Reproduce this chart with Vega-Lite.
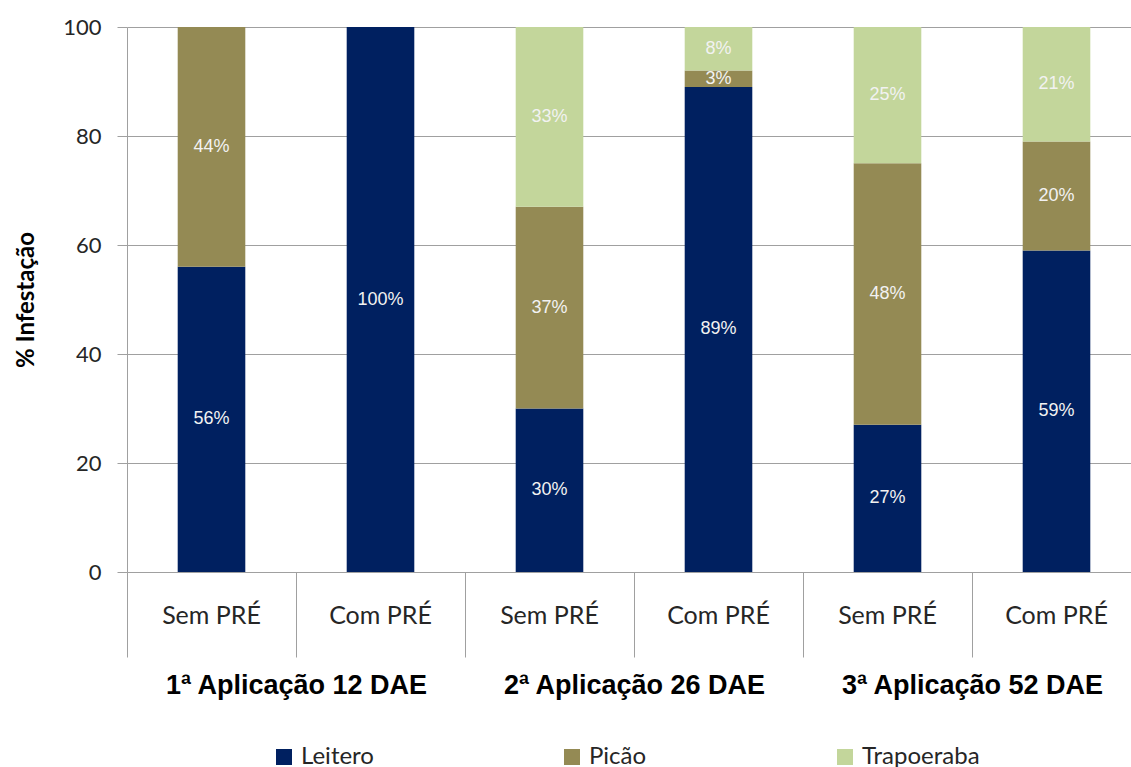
{
  "$schema": "https://vega.github.io/schema/vega-lite/v6.json",
  "width": 1004,
  "height": 545,
  "autosize": {"type": "pad"},
  "padding": {"left": 14, "top": 16, "right": 0, "bottom": 0},
  "background": "white",
  "config": {"view": {"stroke": null}, "font": "Lato"},
  "data": {
    "values": [
      {"group": "1ª Aplicação 12 DAE", "cat": "1|Sem PRÉ", "especie": "Leitero", "value": 56, "label": "56%"},
      {"group": "1ª Aplicação 12 DAE", "cat": "1|Sem PRÉ", "especie": "Picão", "value": 44, "label": "44%"},
      {"group": "1ª Aplicação 12 DAE", "cat": "1|Com PRÉ", "especie": "Leitero", "value": 100, "label": "100%"},
      {"group": "2ª Aplicação 26 DAE", "cat": "2|Sem PRÉ", "especie": "Leitero", "value": 30, "label": "30%"},
      {"group": "2ª Aplicação 26 DAE", "cat": "2|Sem PRÉ", "especie": "Picão", "value": 37, "label": "37%"},
      {"group": "2ª Aplicação 26 DAE", "cat": "2|Sem PRÉ", "especie": "Trapoeraba", "value": 33, "label": "33%"},
      {"group": "2ª Aplicação 26 DAE", "cat": "2|Com PRÉ", "especie": "Leitero", "value": 89, "label": "89%"},
      {"group": "2ª Aplicação 26 DAE", "cat": "2|Com PRÉ", "especie": "Picão", "value": 3, "label": "3%"},
      {"group": "2ª Aplicação 26 DAE", "cat": "2|Com PRÉ", "especie": "Trapoeraba", "value": 8, "label": "8%"},
      {"group": "3ª Aplicação 52 DAE", "cat": "3|Sem PRÉ", "especie": "Leitero", "value": 27, "label": "27%"},
      {"group": "3ª Aplicação 52 DAE", "cat": "3|Sem PRÉ", "especie": "Picão", "value": 48, "label": "48%"},
      {"group": "3ª Aplicação 52 DAE", "cat": "3|Sem PRÉ", "especie": "Trapoeraba", "value": 25, "label": "25%"},
      {"group": "3ª Aplicação 52 DAE", "cat": "3|Com PRÉ", "especie": "Leitero", "value": 59, "label": "59%"},
      {"group": "3ª Aplicação 52 DAE", "cat": "3|Com PRÉ", "especie": "Picão", "value": 20, "label": "20%"},
      {"group": "3ª Aplicação 52 DAE", "cat": "3|Com PRÉ", "especie": "Trapoeraba", "value": 21, "label": "21%"}
    ]
  },
  "transform": [
    {"stack": "value", "groupby": ["cat"], "sort": [{"field": "especie", "order": "ascending"}], "as": ["v0", "v1"]}
  ],
  "layer": [
    {
      "layer": [
        {
          "mark": {"type": "bar", "width": {"band": 0.4}},
          "encoding": {
            "x": {
              "field": "cat", "type": "nominal",
              "sort": ["1|Sem PRÉ", "1|Com PRÉ", "2|Sem PRÉ", "2|Com PRÉ", "3|Sem PRÉ", "3|Com PRÉ"],
              "scale": {"range": [0, 1014], "paddingInner": 0, "paddingOuter": 0},
              "axis": {
                "title": null, "orient": "bottom", "domain": false, "grid": false,
                "ticks": true, "bandPosition": 0, "tickSize": 85, "tickColor": "#A0A0A0", "tickWidth": 1,
                "labelExpr": "split(datum.label, '|')[1]", "labelAngle": 0,
                "labelFont": "Lato", "labelFontSize": 25, "labelColor": "#262626",
                "labelPadding": -54, "labelBaseline": "top"
              }
            },
            "y": {
              "field": "v1", "type": "quantitative", "title": "% Infestação",
              "scale": {"domain": [0, 100], "nice": false},
              "axis": {
                "titleFont": "Lato", "titleFontSize": 24, "titleFontWeight": "bold",
                "titleColor": "#000000", "titlePadding": 24,
                "values": [0, 20, 40, 60, 80, 100],
                "grid": true, "gridColor": "#A0A0A0", "gridWidth": 1,
                "domain": true, "domainColor": "#A0A0A0", "tickColor": "#A0A0A0", "tickSize": 10,
                "labelFont": "Lato", "labelFontSize": 22, "labelColor": "#262626", "labelPadding": 16
              }
            },
            "y2": {"field": "v0"},
            "color": {
              "field": "especie", "type": "nominal",
              "scale": {"domain": ["Leitero", "Picão", "Trapoeraba"], "range": ["#002060", "#948A54", "#C3D69B"]},
              "legend": {
                "title": null, "orient": "none", "direction": "horizontal", "columns": 3,
                "legendX": 145, "legendY": 718, "padding": 0,
                "symbolType": "square", "symbolSize": 256, "symbolStrokeWidth": 0,
                "labelFont": "Lato", "labelFontSize": 24, "labelColor": "#262626",
                "labelOffset": 5, "columnPadding": 186, "labelLimit": 300
              }
            }
          }
        },
        {
          "transform": [{"fold": ["v0", "v1"], "as": ["k", "pos"]}],
          "mark": {"type": "text", "font": "Liberation Sans", "fontSize": 18, "color": "#F2F2F2", "baseline": "middle", "align": "center"},
          "encoding": {
            "x": {
              "field": "cat", "type": "nominal",
              "sort": ["1|Sem PRÉ", "1|Com PRÉ", "2|Sem PRÉ", "2|Com PRÉ", "3|Sem PRÉ", "3|Com PRÉ"],
              "scale": {"range": [0, 1014], "paddingInner": 0, "paddingOuter": 0}
            },
            "y": {"aggregate": "mean", "field": "pos", "type": "quantitative", "stack": null, "title": "% Infestação"},
            "detail": {"field": "especie", "type": "nominal"},
            "text": {"field": "label", "type": "nominal"}
          }
        }
      ]
    },
    {
      "mark": {"type": "text", "text": ""},
      "encoding": {
        "x": {
          "field": "group", "type": "nominal",
          "sort": ["1ª Aplicação 12 DAE", "2ª Aplicação 26 DAE", "3ª Aplicação 52 DAE"],
          "scale": {"range": [0, 1014], "paddingInner": 0, "paddingOuter": 0},
          "axis": {
            "title": null, "orient": "bottom", "domain": false, "grid": false, "ticks": false,
            "labelAngle": 0, "labelFont": "Liberation Sans", "labelFontSize": 27, "labelFontWeight": "bold",
            "labelColor": "#000000", "labelPadding": 100, "labelBaseline": "top", "labelLimit": 500
          }
        }
      }
    }
  ],
  "resolve": {"scale": {"x": "independent"}}
}
